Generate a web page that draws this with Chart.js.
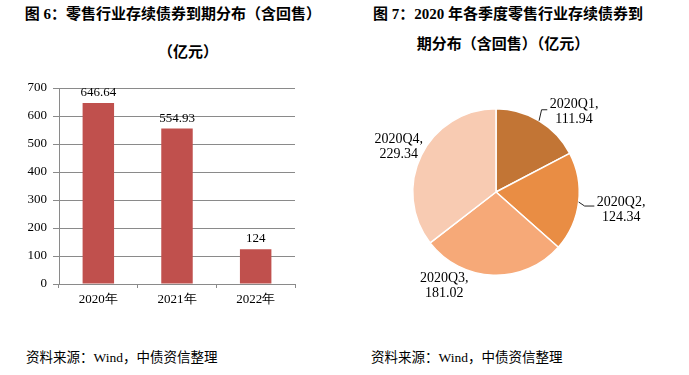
<!DOCTYPE html>
<html>
<head>
<meta charset="utf-8">
<script src="https://cdn.jsdelivr.net/npm/chart.js@4.4.0/dist/chart.umd.min.js"></script>
<style>
body{margin:0;background:#fff;width:689px;height:375px;position:relative;overflow:hidden;}
.t{position:absolute;font-family:"Liberation Serif","Noto Sans CJK SC",serif;font-weight:bold;font-size:15px;color:#000;white-space:nowrap;transform:translate(-50%,-50%);}
.src{position:absolute;font-family:"Liberation Serif","Noto Sans CJK SC",serif;font-size:13.5px;color:#000;white-space:nowrap;top:346px;}
canvas{position:absolute;top:0;}
</style>
</head>
<body>
<div class="t" style="left:173px;top:12px">图 6：零售行业存续债券到期分布（含回售）</div>
<div class="t" style="left:188px;top:50px">（亿元）</div>
<div class="t" style="left:508px;top:12px">图 7：2020 年各季度零售行业存续债券到</div>
<div class="t" style="left:503px;top:42px">期分布（含回售）（亿元）</div>
<div class="src" style="left:26px">资料来源：Wind，中债资信整理</div>
<div class="src" style="left:371px">资料来源：Wind，中债资信整理</div>
<div style="position:absolute;left:0;top:0;width:345px;height:375px"><canvas id="barChart" width="345" height="375"></canvas></div>
<div style="position:absolute;left:345px;top:0;width:344px;height:375px"><canvas id="pieChart" width="344" height="375"></canvas></div>
<script>
// 左图：年度到期分布
var years=['2020年','2021年','2022年'];
var yearValues=[646.64,554.93,124];
var yTicks=[0,100,200,300,400,500,600,700];
// 右图：2020年各季度
var quarters=['2020Q1','2020Q2','2020Q3','2020Q4'];
var quarterValues=[111.94,124.34,181.02,229.34];

var serif='"Liberation Serif","Times New Roman",serif';
var gridGray='#8a8a8a';

var barLabels={
    id:'barLabels',
    afterDatasetsDraw:function(chart){
        var ctx=chart.ctx;
        var meta=chart.getDatasetMeta(0);
        ctx.save();
        ctx.font='13px '+serif;
        ctx.fillStyle='#000';
        ctx.textAlign='center';
        ctx.textBaseline='bottom';
        meta.data.forEach(function(bar,i){
            ctx.fillText(String(yearValues[i]),bar.x,bar.y-4);
        });
        ctx.restore();
    }
};

new Chart('barChart',{
    type:'bar',
    data:{
        labels:years,
        datasets:[{data:yearValues,backgroundColor:'#C0504D',borderWidth:0,categoryPercentage:1,barPercentage:0.4}]
    },
    options:{
        responsive:false,
        animation:false,
        layout:{padding:{left:0,top:88,right:50,bottom:61}},
        plugins:{legend:{display:false},tooltip:{enabled:false}},
        scales:{
            y:{
                min:0,max:700,
                afterBuildTicks:function(s){s.ticks=yTicks.map(function(v){return {value:v};});},
                afterFit:function(s){s.width=59;},
                ticks:{font:{family:serif,size:13},color:'#000',padding:6},
                grid:{color:gridGray,tickLength:6},
                border:{color:gridGray}
            },
            x:{
                afterFit:function(s){s.height=30;},
                ticks:{font:{family:serif,size:13},color:'#000',padding:4},
                grid:{offset:true,drawOnChartArea:false,color:gridGray,tickLength:4},
                border:{color:gridGray}
            }
        }
    },
    plugins:[barLabels]
});

// 标签相对扇区外缘中点的偏移与引导线
var labelOffsets=[[35,-8.5],[42.5,7.5],[-49,10.5],[-22.5,-8.5]];
var leaders=[true,true,false,false];

var pieLabels={
    id:'pieLabels',
    afterDatasetsDraw:function(chart){
        var ctx=chart.ctx;
        var meta=chart.getDatasetMeta(0);
        ctx.save();
        ctx.font='14px '+serif;
        ctx.fillStyle='#000';
        ctx.strokeStyle='#222';
        ctx.lineWidth=1;
        ctx.textBaseline='middle';
        ctx.textAlign='center';
        meta.data.forEach(function(arc,i){
            var mid=(arc.startAngle+arc.endAngle)/2;
            var ex=arc.x+Math.cos(mid)*arc.outerRadius;
            var ey=arc.y+Math.sin(mid)*arc.outerRadius;
            var cx=ex+labelOffsets[i][0];
            var cy=ey+labelOffsets[i][1];
            var line1=quarters[i]+',';
            var line2=quarterValues[i].toFixed(2);
            ctx.fillText(line1,cx,cy-7.5);
            ctx.fillText(line2,cx,cy+7.5);
            if(leaders[i]){
                var left=cx-ctx.measureText(line1).width/2-2.5;
                var ly=cy-7.5+(i==0?5:4);
                ctx.beginPath();
                ctx.moveTo(ex,ey);
                ctx.lineTo(ex+(i==0?2.5:6),ly);
                ctx.lineTo(left,ly);
                ctx.stroke();
            }
        });
        ctx.restore();
    }
};

new Chart('pieChart',{
    type:'pie',
    data:{
        labels:quarters,
        datasets:[{data:quarterValues,backgroundColor:['#C27535','#E98D44','#F6A978','#F8CBB2'],borderColor:'#fff',borderWidth:1.5}]
    },
    options:{
        responsive:false,
        animation:false,
        layout:{padding:{left:67,top:108,right:109,bottom:99}},
        plugins:{legend:{display:false},tooltip:{enabled:false}}
    },
    plugins:[pieLabels]
});
</script>
</body>
</html>
